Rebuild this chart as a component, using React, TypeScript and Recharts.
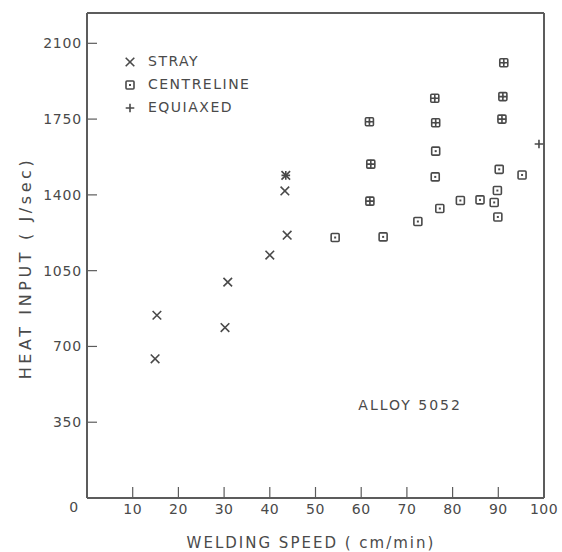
import React from 'react';
import { ScatterChart, Scatter, XAxis, YAxis, ReferenceLine, ReferenceDot, Legend } from 'recharts';

const xTicks = [0, 10, 20, 30, 40, 50, 60, 70, 80, 90, 100];
const yTicks = [0, 350, 700, 1050, 1400, 1750, 2100];
const seriesNames = ['STRAY', 'CENTRELINE', 'EQUIAXED'];

const strayPoints = [
  { x: 14.9, y: 643 },
  { x: 15.3, y: 844 },
  { x: 30.2, y: 787 },
  { x: 30.8, y: 997 },
  { x: 40.0, y: 1122 },
  { x: 43.8, y: 1214 },
  { x: 43.3, y: 1418 },
  { x: 43.5, y: 1490 },
];

const centrelinePoints = [
  { x: 76.3, y: 1602 },
  { x: 76.2, y: 1483 },
  { x: 90.2, y: 1518 },
  { x: 95.2, y: 1492 },
  { x: 89.8, y: 1420 },
  { x: 81.7, y: 1374 },
  { x: 86.0, y: 1377 },
  { x: 89.1, y: 1365 },
  { x: 77.2, y: 1337 },
  { x: 89.9, y: 1298 },
  { x: 72.4, y: 1277 },
  { x: 54.3, y: 1203 },
  { x: 64.8, y: 1206 },
  // centreline points that are also equiaxed
  { x: 91.2, y: 2010 },
  { x: 76.1, y: 1846 },
  { x: 91.0, y: 1854 },
  { x: 61.8, y: 1738 },
  { x: 76.3, y: 1733 },
  { x: 90.8, y: 1750 },
  { x: 62.1, y: 1542 },
  { x: 61.9, y: 1371 },
];

const equiaxedPoints = [
  { x: 91.2, y: 2010 },
  { x: 76.1, y: 1846 },
  { x: 91.0, y: 1854 },
  { x: 61.8, y: 1738 },
  { x: 76.3, y: 1733 },
  { x: 90.8, y: 1750 },
  { x: 62.1, y: 1542 },
  { x: 61.9, y: 1371 },
  { x: 98.9, y: 1635 },
  { x: 43.5, y: 1490 },
];

const INK = '#4a4a4a';
const LINE = '#5c5c5c';
const FONT = '"DejaVu Sans", "Liberation Sans", sans-serif';

const crossPath = (cx: number, cy: number, s: number) =>
  `M${cx - s},${cy - s}L${cx + s},${cy + s}M${cx - s},${cy + s}L${cx + s},${cy - s}`;
const plusPath = (cx: number, cy: number, s: number) =>
  `M${cx - s},${cy}L${cx + s},${cy}M${cx},${cy - s}L${cx},${cy + s}`;

const CrossShape = (p: any) => (
  <path d={crossPath(p.cx, p.cy, 4.3)} stroke={INK} strokeWidth={1.6} fill="none" />
);
const SquareShape = (p: any) => (
  <g>
    <rect x={p.cx - 4} y={p.cy - 4} width={8} height={8} rx={1} fill="#fff" stroke={INK} strokeWidth={1.6} />
    <rect x={p.cx - 1} y={p.cy - 1} width={2} height={2} fill={INK} />
  </g>
);
const PlusShape = (p: any) => (
  <path d={plusPath(p.cx, p.cy, 4.3)} stroke={INK} strokeWidth={1.6} fill="none" />
);

const XTick = (props: any) => {
  const { x, y, payload } = props;
  const v = payload.value;
  const txt = { fontFamily: FONT, fontSize: 14, fill: INK, letterSpacing: 0.5 } as any;
  if (v === 0) {
    return (
      <text x={x - 13} y={y + 14} textAnchor="middle" {...txt}>
        0
      </text>
    );
  }
  return (
    <g>
      {v !== 100 && <line x1={x} x2={x} y1={y} y2={y - 11} stroke={LINE} strokeWidth={1.2} />}
      <text x={x} y={y + 16} textAnchor="middle" {...txt}>
        {v}
      </text>
    </g>
  );
};

const YTick = (props: any) => {
  const { x, y, payload } = props;
  const v = payload.value;
  if (v === 0) return <g />;
  return (
    <g>
      <line x1={x} x2={x + 10} y1={y} y2={y} stroke={LINE} strokeWidth={1.2} />
      <text x={x - 5} y={y + 5} textAnchor="end" fontFamily={FONT} fontSize={14} fill={INK} letterSpacing={0.8}>
        {v}
      </text>
    </g>
  );
};

const LegendIcon = ({ name }: { name: string }) => {
  if (name === 'STRAY') return <CrossShape cx={10} cy={10} />;
  if (name === 'CENTRELINE') return <SquareShape cx={10} cy={10} />;
  return <PlusShape cx={10} cy={10} />;
};

const LegendContent = (props: any) => {
  const items = [...(props.payload || [])].sort(
    (a: any, b: any) => seriesNames.indexOf(a.value) - seriesNames.indexOf(b.value)
  );
  return (
    <div style={{ display: 'flex', flexDirection: 'column' }}>
      {items.map((e: any) => (
        <div key={e.value} style={{ height: 23, display: 'flex', alignItems: 'center' }}>
          <svg width={20} height={20}>
            <LegendIcon name={e.value} />
          </svg>
          <span
            style={{
              marginLeft: 8,
              fontFamily: FONT,
              fontSize: 14,
              color: INK,
              letterSpacing: 1.5,
              lineHeight: '23px',
              whiteSpace: 'nowrap',
            }}
          >
            {e.value}
          </span>
        </div>
      ))}
    </div>
  );
};

const YTitle = (props: any) => {
  const vb = props.viewBox || { x: 0, y: 13, width: 87, height: 485 };
  const cx = vb.x + 25;
  const cy = 268;
  return (
    <text
      x={cx}
      y={cy}
      transform={`rotate(-90 ${cx} ${cy})`}
      textAnchor="middle"
      dominantBaseline="central"
      fontFamily={FONT}
      fontSize={16}
      fill={INK}
      letterSpacing={3.6}
    >
      HEAT INPUT ( J/sec)
    </text>
  );
};

const XTitle = () => {
  return (
    <text x={311} y={548} textAnchor="middle" fontFamily={FONT} fontSize={15} fill={INK} letterSpacing={2}>
      WELDING  SPEED ( cm/min)
    </text>
  );
};

const AlloyLabel = (props: any) => {
  const vb = props.viewBox || {};
  return (
    <text x={vb.x} y={vb.y + 5} textAnchor="middle" fontFamily={FONT} fontSize={14} fill={INK} letterSpacing={2}>
      ALLOY 5052
    </text>
  );
};

export default function App() {
  return (
    <div style={{ position: 'absolute', left: 0, top: 0, width: 562, height: 552, background: '#fff', fontFamily: FONT }}>
      <ScatterChart width={562} height={552} margin={{ top: 13, right: 18, bottom: 0, left: 0 }}>
        <XAxis
          type="number"
          dataKey="x"
          domain={[0, 100]}
          ticks={xTicks}
          interval={0}
          height={54}
          tickLine={false}
          tickSize={0}
          tickMargin={0}
          axisLine={{ stroke: LINE, strokeWidth: 2 }}
          tick={<XTick />}
          label={<XTitle />}
        />
        <YAxis
          type="number"
          dataKey="y"
          domain={[0, 2240]}
          ticks={yTicks}
          interval={0}
          width={87}
          tickLine={false}
          tickSize={0}
          tickMargin={0}
          axisLine={{ stroke: LINE, strokeWidth: 2 }}
          tick={<YTick />}
          label={<YTitle />}
        />
        <ReferenceLine x={100} stroke={LINE} strokeWidth={2} />
        <ReferenceLine y={2240} stroke={LINE} strokeWidth={2} />
        <Legend
          layout="vertical"
          align="center"
          verticalAlign="middle"
          wrapperStyle={{ left: 120, top: 50, width: 'auto', height: 'auto' }}
          content={<LegendContent />}
        />
        <ReferenceDot x={70.7} y={431} r={0} fill="none" stroke="none" label={<AlloyLabel />} />
        <Scatter name="STRAY" data={strayPoints} shape={<CrossShape />} isAnimationActive={false} />
        <Scatter name="CENTRELINE" data={centrelinePoints} shape={<SquareShape />} isAnimationActive={false} />
        <Scatter name="EQUIAXED" data={equiaxedPoints} shape={<PlusShape />} isAnimationActive={false} />
      </ScatterChart>
    </div>
  );
}
